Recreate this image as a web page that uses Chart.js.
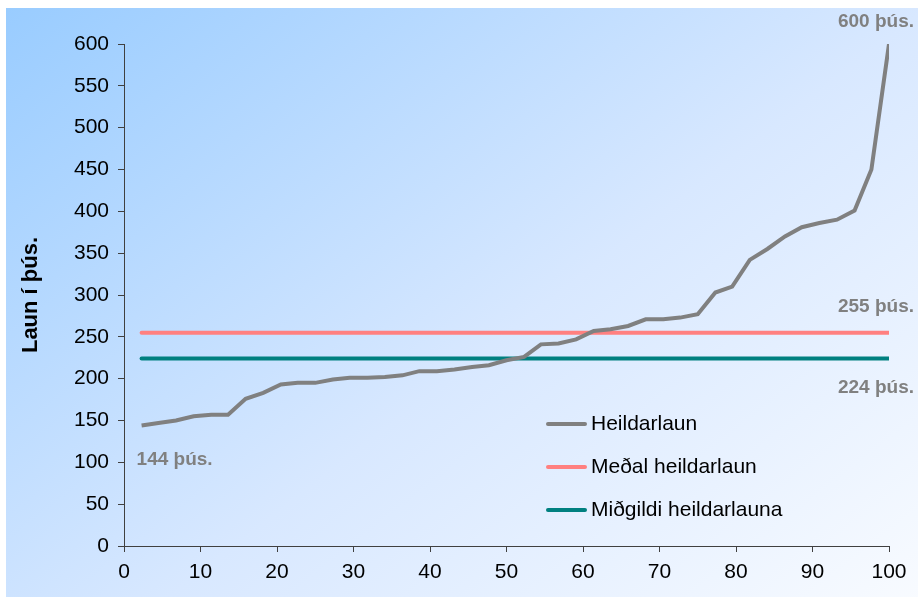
<!DOCTYPE html>
<html lang="is">
<head>
    <meta charset="UTF-8">
    <script src="https://cdn.jsdelivr.net/npm/chart.js"></script>
    <title>Heildarlaun</title>
    <style>
        html, body { margin: 0; padding: 0; background: #fff; }
        .chart-container { width: 918px; height: 597px; position: relative; }
    </style>
</head>
<body>
    <div class="chart-container">
        <canvas id="myChart"></canvas>
    </div>

    <script>
        // x position (percentile) of each person
        const xValues = [2.3, 4.5, 6.8, 9.1, 11.4, 13.6, 15.9, 18.2, 20.5, 22.7, 25.0,
            27.3, 29.5, 31.8, 34.1, 36.4, 38.6, 40.9, 43.2, 45.5, 47.7, 50.0,
            52.3, 54.5, 56.8, 59.1, 61.4, 63.6, 65.9, 68.2, 70.5, 72.7, 75.0,
            77.3, 79.5, 81.8, 84.1, 86.4, 88.6, 90.9, 93.2, 95.5, 97.7, 100];
        // total salary, thousands
        const heildarlaun = [144, 147, 150, 155, 157, 157, 176, 183, 193, 195, 195,
            199, 201, 201, 202, 204, 209, 209, 211, 214, 216, 222,
            226, 241, 242, 247, 257, 259, 263, 271, 271, 273, 277,
            303, 310, 342, 355, 370, 381, 386, 390, 401, 450, 600];
        const medalLaun = 255;
        const midgildiLauna = 224;
        const seriesLabels = ['Heildarlaun', 'Meðal heildarlaun', 'Miðgildi heildarlauna'];
        const seriesColors = ['#808080', '#ff8080', '#008080'];

        const mainPoints = xValues.map((x, i) => ({x: x, y: heildarlaun[i]}));
        const xFirst = xValues[0];
        const xLast = xValues[xValues.length - 1];

        // gradient background behind everything
        const bgPlugin = {
            id: 'bg',
            beforeDraw(chart) {
                const ctx = chart.ctx;
                const g = ctx.createLinearGradient(6, 8, 700, 900);
                g.addColorStop(0, '#99ccff');
                g.addColorStop(0.5, '#d8e8ff');
                g.addColorStop(1, '#ffffff');
                ctx.save();
                ctx.fillStyle = '#ffffff';
                ctx.fillRect(0, 0, chart.width, chart.height);
                ctx.fillStyle = g;
                ctx.fillRect(6, 8, chart.width - 6, chart.height - 8);
                ctx.restore();
            }
        };

        // value labels ("600 þús." etc)
        const valueLabels = {
            id: 'valueLabels',
            afterDatasetsDraw(chart) {
                const ctx = chart.ctx;
                const xs = chart.scales.x, ys = chart.scales.y;
                ctx.save();
                ctx.font = 'bold 19px "Liberation Sans", Arial, sans-serif';
                ctx.fillStyle = '#808080';
                ctx.textAlign = 'center';
                ctx.textBaseline = 'middle';
                const last = heildarlaun[heildarlaun.length - 1];
                ctx.fillText(last + ' þús.', xs.getPixelForValue(xLast) - 13, ys.getPixelForValue(last) - 22);
                ctx.fillText(heildarlaun[0] + ' þús.', xs.getPixelForValue(xFirst) + 33, ys.getPixelForValue(heildarlaun[0]) + 34);
                ctx.fillText(medalLaun + ' þús.', xs.getPixelForValue(xLast) - 13, ys.getPixelForValue(medalLaun) - 26);
                ctx.fillText(midgildiLauna + ' þús.', xs.getPixelForValue(xLast) - 13, ys.getPixelForValue(midgildiLauna) + 29);
                ctx.restore();
            }
        };

        // legend drawn inside the plot area
        const innerLegend = {
            id: 'innerLegend',
            afterDraw(chart) {
                const ctx = chart.ctx;
                ctx.save();
                ctx.font = '21px "Liberation Sans", Arial, sans-serif';
                ctx.textBaseline = 'middle';
                ctx.lineCap = 'round';
                chart.data.datasets.forEach((ds, i) => {
                    const y = 424 + i * 43;
                    ctx.strokeStyle = ds.borderColor;
                    ctx.lineWidth = 4;
                    ctx.beginPath();
                    ctx.moveTo(548, y);
                    ctx.lineTo(585, y);
                    ctx.stroke();
                    ctx.fillStyle = '#000';
                    ctx.fillText(ds.label, 591, y);
                });
                ctx.restore();
            }
        };

        const ctx = document.getElementById('myChart').getContext('2d');
        new Chart(ctx, {
            type: 'line',
            data: {
                datasets: [
                    {
                        label: seriesLabels[0],
                        data: mainPoints,
                        borderColor: seriesColors[0],
                        borderWidth: 4,
                        pointRadius: 0,
                        tension: 0,
                        fill: false
                    },
                    {
                        label: seriesLabels[1],
                        data: [{x: xFirst, y: medalLaun}, {x: xLast, y: medalLaun}],
                        borderColor: seriesColors[1],
                        borderWidth: 4,
                        borderCapStyle: 'round',
                        pointRadius: 0,
                        fill: false
                    },
                    {
                        label: seriesLabels[2],
                        data: [{x: xFirst, y: midgildiLauna}, {x: xLast, y: midgildiLauna}],
                        borderColor: seriesColors[2],
                        borderWidth: 4,
                        borderCapStyle: 'round',
                        pointRadius: 0,
                        fill: false
                    }
                ]
            },
            options: {
                responsive: true,
                maintainAspectRatio: false,
                animation: false,
                layout: { padding: { top: 44, right: 29, left: 0, bottom: 0 } },
                plugins: {
                    legend: { display: false },
                    tooltip: { enabled: false }
                },
                scales: {
                    x: {
                        type: 'linear',
                        min: 0,
                        max: 100,
                        afterFit(scale) { scale.height = 51; },
                        ticks: {
                            stepSize: 10,
                            color: '#000',
                            padding: 8,
                            maxRotation: 0,
                            font: { family: '"Liberation Sans Narrow", "Liberation Sans", Arial', size: 21 }
                        },
                        grid: { drawOnChartArea: false, drawTicks: true, tickLength: 6, color: '#404040' },
                        border: { display: true, color: '#404040', width: 1 }
                    },
                    y: {
                        min: 0,
                        max: 600,
                        afterFit(scale) { scale.width = 124; },
                        title: {
                            display: true,
                            text: 'Laun í þús.',
                            color: '#000',
                            padding: { top: 18, bottom: 0 },
                            font: { family: '"Liberation Sans", Arial', size: 22, weight: 'bold' }
                        },
                        ticks: {
                            stepSize: 50,
                            color: '#000',
                            padding: 9,
                            font: { family: '"Liberation Sans", Arial', size: 21 }
                        },
                        grid: { drawOnChartArea: false, drawTicks: true, tickLength: 6, color: '#404040' },
                        border: { display: true, color: '#404040', width: 1 }
                    }
                }
            },
            plugins: [bgPlugin, valueLabels, innerLegend]
        });
    </script>
</body>
</html>
